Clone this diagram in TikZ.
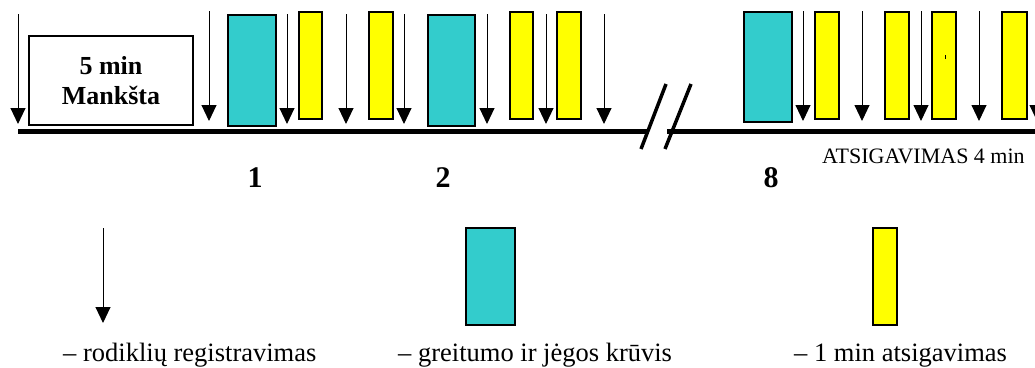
\documentclass[tikz,border=0pt]{standalone}
\usepackage{fontspec}
\setmainfont{Liberation Serif}
\usetikzlibrary{arrows.meta}
\definecolor{loadcyan}{HTML}{33CCCC}
\definecolor{restyellow}{HTML}{FFFF00}
\begin{document}
\begin{tikzpicture}[x=1pt,y=-1pt,
    regarrow/.style={line width=1pt,-{Triangle[width=15pt,length=16pt]}},
    loadbox/.style={draw,line width=1.5pt,fill=loadcyan},
    restbox/.style={draw,line width=1.5pt,fill=restyellow},
    numlabel/.style={anchor=base,inner sep=0pt,font=\bfseries\fontsize{30}{30}\selectfont},
    legendtext/.style={anchor=base west,inner sep=0pt,font=\fontsize{26.5}{30}\selectfont}]
    \useasboundingbox (0,0) rectangle (1035,367);
    % time axis with break
    \draw[line width=5pt] (18,131.5) -- (648,131.5);
    \draw[line width=5pt] (667,131.5) -- (1040,131.5);
    \draw[line width=3.5pt] (641,149) -- (666,84);
    \draw[line width=3.5pt] (665,149) -- (691,84);
    % warm-up
    \node[draw,line width=1.5pt,fill=white,minimum width=164pt,minimum height=89pt,
          align=center,font=\bfseries\fontsize{26}{30}\selectfont] (warmup) at (111,80.5) {5 min\\Mankšta};
    % loads and rests
    \foreach \xa/\xb/\ya/\yb in {228/276/15/126, 428/475/15/126, 744/792/12/122}
    \draw[loadbox] (\xa,\ya) rectangle (\xb,\yb);
    \foreach \xa/\xb in {299/322, 369/393, 510/533, 557/581, 815/839, 885/909, 932/956, 1002/1027}
    \draw[restbox] (\xa,12) rectangle (\xb,119);
    \draw[line width=1pt] (945,55) -- (945,59);
    % registrations
    \foreach \x/\ya/\yb in {18/14/124, 209/11/121, 287/14/124, 346/14/124, 404/14/124, 487/14/124,
                             546/14/124, 604/14/124, 803/11/121, 862/11/121, 921/11/121, 979/11/121, 1037/11/121}
    \draw[regarrow] (\x,\ya) -- (\x,\yb);
    % series numbers
    \node[numlabel] (s1) at (255,187) {1};
    \node[numlabel] (s2) at (443,187) {2};
    \node[numlabel] (s8) at (771,187) {8};
    \node[anchor=base west,inner sep=0pt,font=\fontsize{22}{24}\selectfont] (recovery) at (822,163) {ATSIGAVIMAS 4 min};
    % legend
    \draw[regarrow] (103,228) -- (103,323);
    \draw[loadbox] (466,228) rectangle (515,325);
    \draw[restbox] (873,228) rectangle (897,325);
    \node[legendtext] (lgreg) at (63,361) {– rodiklių registravimas};
    \node[legendtext] (lgload) at (398,361) {– greitumo ir jėgos krūvis};
    \node[legendtext] (lgrest) at (794,361) {– 1 min atsigavimas};
\end{tikzpicture}
\end{document}
